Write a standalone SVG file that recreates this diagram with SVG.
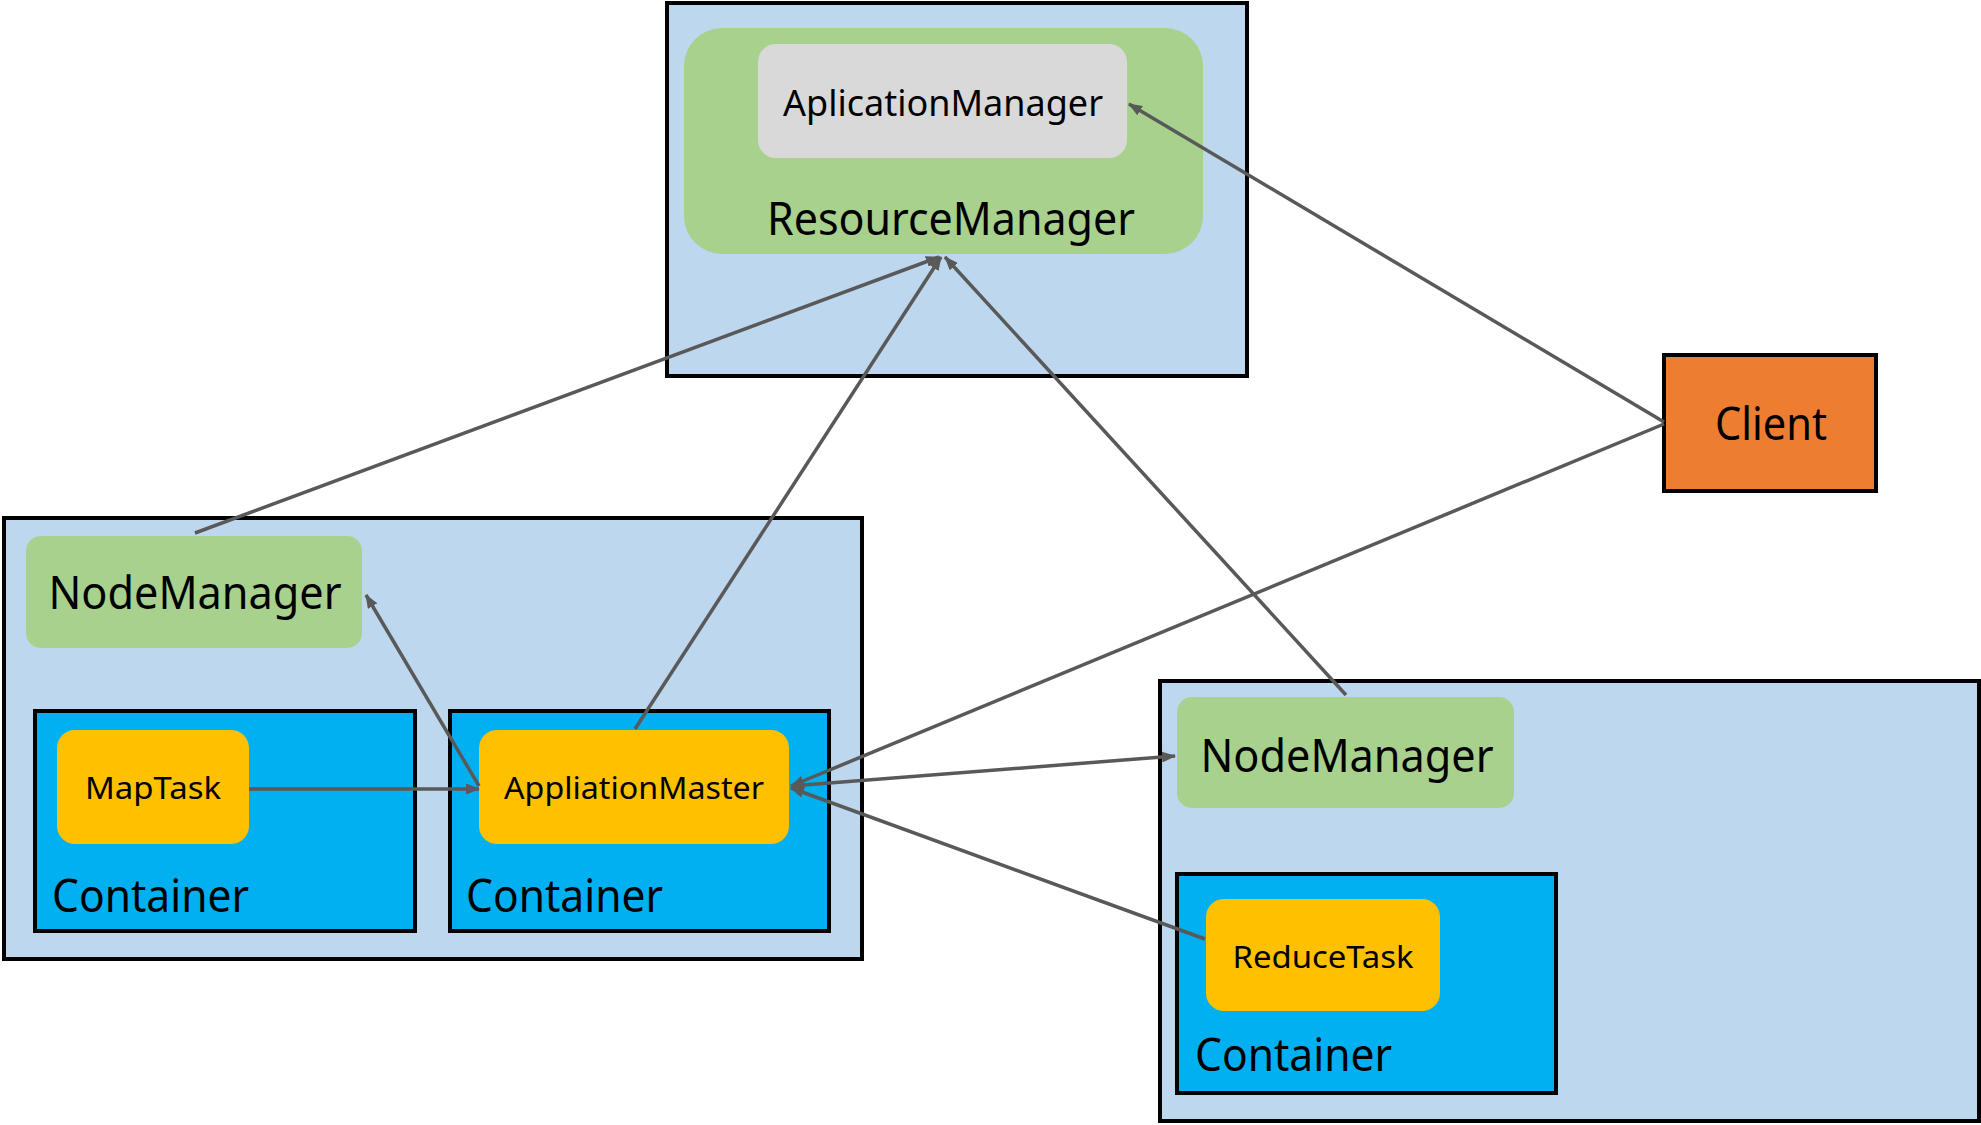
<svg xmlns="http://www.w3.org/2000/svg" width="1981" height="1125" viewBox="0 0 1981 1125">
<style>
.host{fill:#BDD7EE;stroke:#000;stroke-width:4}
.cont{fill:#00B0F0;stroke:#000;stroke-width:4}
.green{fill:#A9D18E}
.grey{fill:#D9D9D9}
.task{fill:#FFC000}
.client{fill:#ED7D31;stroke:#000;stroke-width:4}
text{font-family:"Noto Sans","Open Sans","Liberation Sans",sans-serif;fill:#000}
.big{font-size:46px}
.mid{font-size:37px}
.sm{font-size:30px}
.c{text-anchor:middle}
.edge{stroke:#595959;stroke-width:3.5;fill:none}
</style>
<defs>
<marker id="ah" viewBox="0 0 14 11" refX="13" refY="5.5" markerWidth="14" markerHeight="11" markerUnits="userSpaceOnUse" orient="auto-start-reverse">
<path d="M0,0 L14,5.5 L0,11 Z" fill="#595959"/>
</marker>
</defs>

<g id="resourcemanager-host">
<rect class="host" x="667" y="3" width="580" height="373"/>
<rect class="green" x="684" y="28" width="519" height="226" rx="38"/>
<text class="big c" x="951" y="235" textLength="368" lengthAdjust="spacingAndGlyphs">ResourceManager</text>
</g>
<g id="applicationmanager">
<rect class="grey" x="758" y="44" width="369" height="114" rx="18"/>
<text class="mid c" x="943" y="116" textLength="320" lengthAdjust="spacingAndGlyphs">AplicationManager</text>
</g>
<g id="client">
<rect class="client" x="1664" y="355" width="212" height="136"/>
<text class="big c" x="1771" y="440" textLength="112" lengthAdjust="spacingAndGlyphs">Client</text>
</g>

<g id="node1">
<rect class="host" x="4" y="518" width="858" height="441"/>
</g>
<g id="nodemanager1">
<rect class="green" x="26" y="536" width="336" height="112" rx="15"/>
<text class="big c" x="195" y="609" textLength="293" lengthAdjust="spacingAndGlyphs">NodeManager</text>
</g>
<g id="container1">
<rect class="cont" x="35" y="711" width="380" height="220"/>
<text class="big" x="52" y="912" textLength="197" lengthAdjust="spacingAndGlyphs">Container</text>
</g>
<g id="maptask">
<rect class="task" x="57" y="730" width="192" height="114" rx="18"/>
<text class="sm c" x="153" y="799" textLength="136" lengthAdjust="spacingAndGlyphs">MapTask</text>
</g>
<g id="container2">
<rect class="cont" x="450" y="711" width="379" height="220"/>
<text class="big" x="466" y="912" textLength="197" lengthAdjust="spacingAndGlyphs">Container</text>
</g>
<g id="appmaster">
<rect class="task" x="479" y="730" width="310" height="114" rx="18"/>
<text class="sm c" x="634" y="799" textLength="260" lengthAdjust="spacingAndGlyphs">AppliationMaster</text>
</g>

<g id="node2">
<rect class="host" x="1160" y="681" width="819" height="440"/>
</g>
<g id="nodemanager2">
<rect class="green" x="1177" y="697" width="337" height="111" rx="15"/>
<text class="big c" x="1347" y="772" textLength="293" lengthAdjust="spacingAndGlyphs">NodeManager</text>
</g>
<g id="container3">
<rect class="cont" x="1177" y="874" width="379" height="219"/>
<text class="big" x="1195" y="1071" textLength="197" lengthAdjust="spacingAndGlyphs">Container</text>
</g>
<g id="reducetask">
<rect class="task" x="1206" y="899" width="234" height="112" rx="18"/>
<text class="sm c" x="1323" y="968" textLength="181" lengthAdjust="spacingAndGlyphs">ReduceTask</text>
</g>

<g id="connectors">
<line class="edge" x1="195" y1="533" x2="939" y2="257" marker-end="url(#ah)"/>
<line class="edge" x1="635" y1="729" x2="941" y2="257" marker-end="url(#ah)"/>
<line class="edge" x1="1346" y1="695" x2="945" y2="257" marker-end="url(#ah)"/>
<line class="edge" x1="1664" y1="422" x2="1129" y2="104" marker-end="url(#ah)"/>
<line class="edge" x1="1664" y1="424" x2="791" y2="786" marker-end="url(#ah)"/>
<line class="edge" x1="479" y1="786" x2="366" y2="595" marker-end="url(#ah)"/>
<line class="edge" x1="249" y1="789" x2="479" y2="789" marker-end="url(#ah)"/>
<line class="edge" x1="791" y1="786" x2="1175" y2="756" marker-start="url(#ah)" marker-end="url(#ah)"/>
<line class="edge" x1="1205" y1="939" x2="791" y2="788" marker-end="url(#ah)"/>
</g>
</svg>
